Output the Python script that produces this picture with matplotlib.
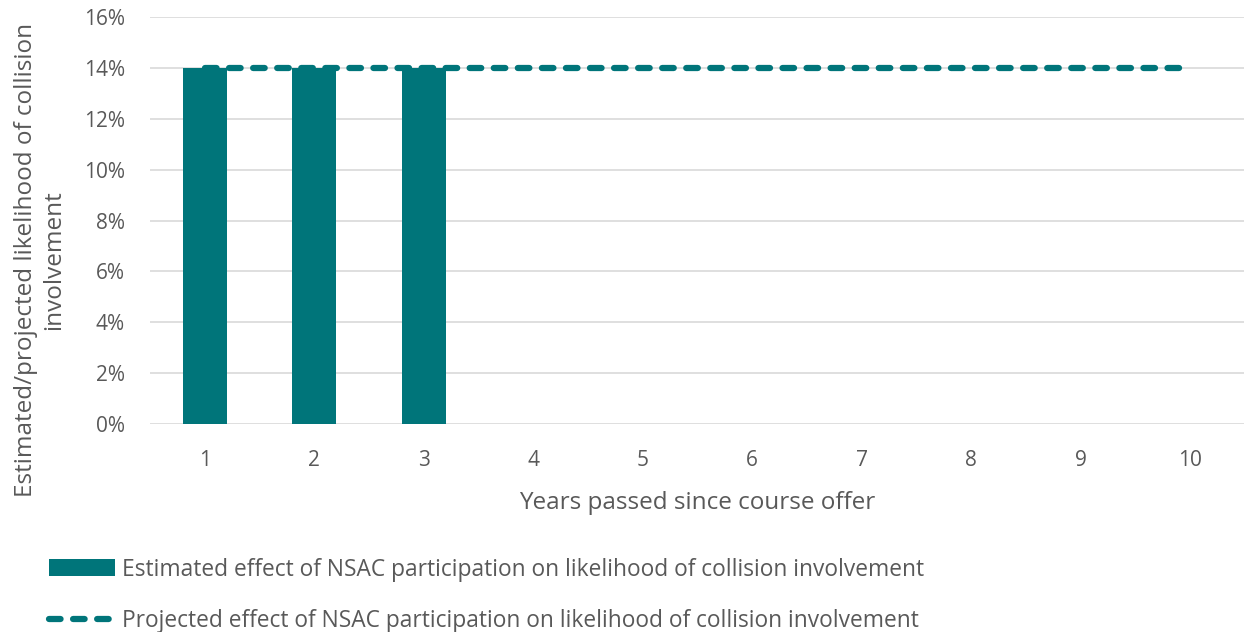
import matplotlib.pyplot as plt
import numpy as np

plt.rcParams['font.family'] = ['Open Sans', 'DejaVu Sans']

years = [1, 2, 3, 4, 5, 6, 7, 8, 9, 10]
estimated = [0.14, 0.14, 0.14]
projected = [0.14, 0.14, 0.14, 0.14, 0.14, 0.14, 0.14, 0.14, 0.14, 0.14]
yticks = [0, 0.02, 0.04, 0.06, 0.08, 0.10, 0.12, 0.14, 0.16]

teal = '#00757A'
grey = '#595959'

fig = plt.figure(figsize=(12.44, 6.32), dpi=100)
ax = fig.add_axes([0.1206, 0.329, 0.88, 0.644])

bars = ax.bar(years[:len(estimated)], estimated, width=0.4, color=teal, zorder=2)
line, = ax.plot(years, projected, color=teal, lw=4.5, linestyle='--',
                dashes=(1.85, 2.0), dash_capstyle='round', zorder=3)

ax.set_xlim(0.5, 10.5)
ax.set_ylim(0, 0.16)
ax.set_yticks(yticks)
ax.set_yticklabels([f'{int(round(v * 100))}%' for v in yticks])
ax.set_xticks(years)
ax.grid(axis='y', color='#d9d9d9', lw=1.2, zorder=0)
for s in ax.spines.values():
    s.set_visible(False)
ax.tick_params(length=0, colors=grey, labelsize=15)
ax.tick_params(axis='x', pad=19)
ax.tick_params(axis='y', pad=18)

ax.set_xlabel('Years passed since course offer', fontsize=17.5, color=grey, labelpad=14)
fig.text(40 / 1244, 1 - 260 / 632, 'Estimated/projected likelihood of collision\ninvolvement',
         rotation=90, ha='center', va='center', multialignment='center',
         fontsize=17.5, color=grey, linespacing=1.25)

# legend below the plot, bar first
fig.legend([bars, line],
           ['Estimated effect of NSAC participation on likelihood of collision involvement',
            'Projected effect of NSAC participation on likelihood of collision involvement'],
           loc='upper left', bbox_to_anchor=(0.023, 0.15), frameon=False,
           fontsize=16.4, labelcolor=grey, handlelength=2.9, handleheight=0.8,
           labelspacing=1.2, handletextpad=0.3)

fig.savefig('out.png', dpi=100)
